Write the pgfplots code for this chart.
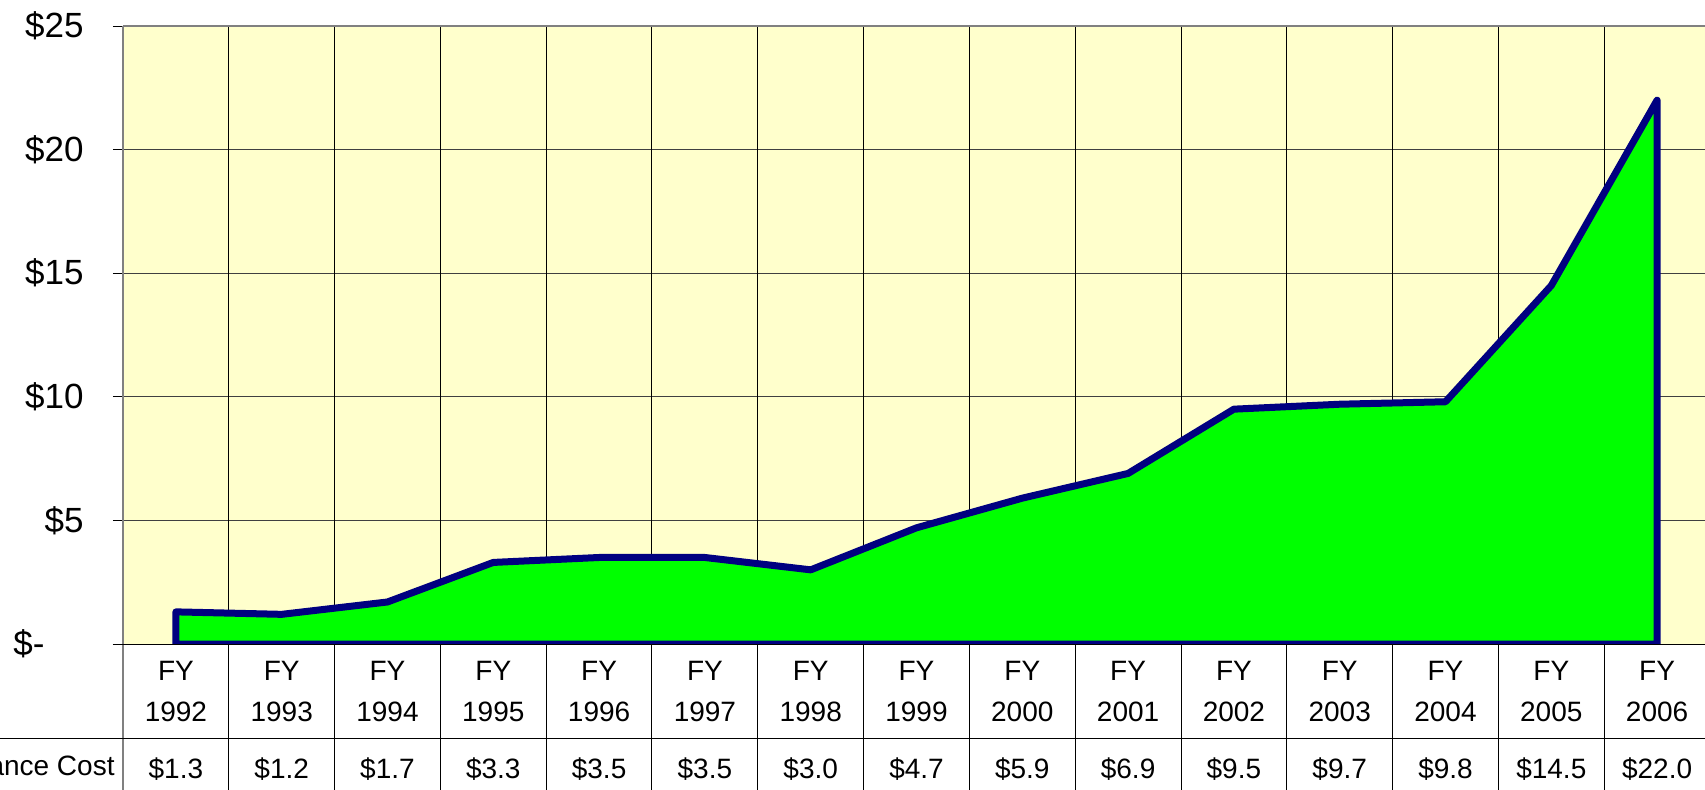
\documentclass[border=0pt]{standalone}
\usepackage{fontspec}
\setmainfont{Liberation Sans}
\usepackage{pgfplots}
\pgfplotsset{compat=1.18}
\definecolor{bgyellow}{HTML}{FFFFCC}
\definecolor{navyb}{HTML}{000080}
\definecolor{brightgreen}{HTML}{00FF00}
\definecolor{gridgray}{HTML}{404040}
\definecolor{framegray}{HTML}{808080}
\begin{document}
\begin{tikzpicture}
\path[use as bounding box] (-61.5pt,-72.5pt) rectangle (791pt,322pt);
\begin{axis}[
  at={(0pt,0pt)}, anchor=south west,
  scale only axis, width=793.5pt, height=309pt,
  xmin=-0.5, xmax=14.5, ymin=0, ymax=25,
  clip mode=individual,
  axis background/.style={fill=bgyellow},
  axis x line*=bottom, axis y line*=left,
  x axis line style={-, draw=none},
  y axis line style={-, draw=framegray, line width=1pt},
  xtick={0,...,14},
  xtick style={draw=none},
  xticklabels={
    FY\\1992\\[8pt]\$1.3, FY\\1993\\[8pt]\$1.2, FY\\1994\\[8pt]\$1.7,
    FY\\1995\\[8pt]\$3.3, FY\\1996\\[8pt]\$3.5, FY\\1997\\[8pt]\$3.5,
    FY\\1998\\[8pt]\$3.0, FY\\1999\\[8pt]\$4.7, FY\\2000\\[8pt]\$5.9,
    FY\\2001\\[8pt]\$6.9, FY\\2002\\[8pt]\$9.5, FY\\2003\\[8pt]\$9.7,
    FY\\2004\\[8pt]\$9.8, FY\\2005\\[8pt]\$14.5, FY\\2006\\[8pt]\$22.0},
  xticklabel style={align=center, anchor=north, inner sep=0pt, yshift=-8.5pt,
    font=\fontsize{14}{20.5}\selectfont},
  ytick={0,5,10,15,20,25},
  yticklabels={\$-\hspace*{19.5pt}, \$5, \$10, \$15, \$20, \$25},
  ytick align=outside,
  major tick length=5pt,
  ytick style={draw=black, line width=0.5pt},
  yticklabel style={anchor=east, inner sep=0pt, xshift=-14.5pt,
    font=\fontsize{17.5}{20}\selectfont},
  ymajorgrids,
  major grid style={draw=gridgray, line width=0.5pt},
]
% vertical grid / table lines
\pgfplotsinvokeforeach{0.5,1.5,...,13.5}{
  \draw[black, line width=0.5pt] (axis cs:#1,25) -- (axis cs:#1,-6.5);
}
\draw[framegray, line width=1pt] (axis cs:-0.5,-6.5) -- (axis cs:-0.5,25);
\draw[framegray, line width=1pt] (axis cs:-0.5,25) -- (axis cs:14.5,25);
\addplot[draw=navyb, fill=brightgreen, line width=3.5pt, line join=round]
  coordinates {(0,1.3) (1,1.2) (2,1.7) (3,3.3) (4,3.5) (5,3.5) (6,3.0) (7,4.7)
               (8,5.9) (9,6.9) (10,9.5) (11,9.7) (12,9.8) (13,14.5) (14,22.0)}
  \closedcycle;
\draw[black, line width=0.5pt] ([xshift=-5pt]axis cs:-0.5,0) -- (axis cs:14.6,0);
\draw[black, line width=0.5pt] ([xshift=-80pt,yshift=-47pt]axis cs:-0.5,0) -- ([yshift=-47pt]axis cs:14.6,0);
\node[anchor=east, inner sep=0pt, font=\fontsize{14}{16}\selectfont]
  at ([xshift=-4pt,yshift=-60.5pt]axis cs:-0.5,0) {Maintenance Cost};
\end{axis}
\end{tikzpicture}
\end{document}
